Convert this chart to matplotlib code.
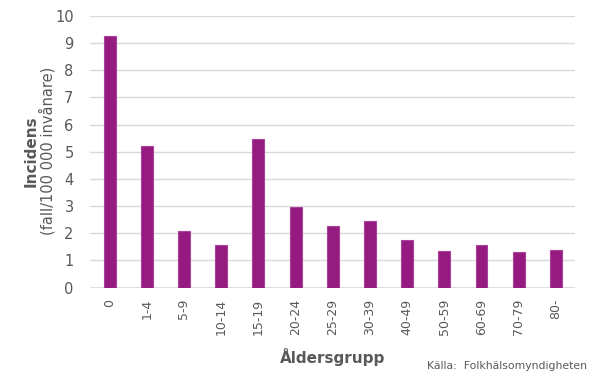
import matplotlib.pyplot as plt

groups = ['0', '1-4', '5-9', '10-14', '15-19', '20-24', '25-29', '30-39',
          '40-49', '50-59', '60-69', '70-79', '80-']
incidens = [9.25, 5.22, 2.07, 1.56, 5.47, 2.95, 2.26, 2.44, 1.75, 1.35, 1.56, 1.32, 1.39]

txt = '#595959'
plt.rcParams['font.family'] = ['DejaVu Sans']

fig = plt.figure(figsize=(5.9, 3.78), dpi=100)
ax = fig.add_axes([0.153, 0.239, 0.822, 0.719])

ax.bar(range(len(groups)), incidens, width=0.32, color='#951b81',
       edgecolor='#a9409a', linewidth=0.8, zorder=3)

ax.set_ylim(0, 10)
ax.set_xlim(-0.52, 12.52)
ax.set_yticks(range(0, 11))
ax.set_xticks(range(len(groups)))
ax.set_xticklabels(groups, rotation=90)
ax.tick_params(axis='both', length=0, colors=txt)
ax.tick_params(axis='y', pad=12, labelsize=10.5)
ax.tick_params(axis='x', pad=8, labelsize=9)
ax.grid(axis='y', color='#d9d9d9', linewidth=1, zorder=0)
for s in ax.spines.values():
    s.set_visible(False)
ax.axhline(0, color='#d9d9d9', linewidth=1.2, zorder=2)

fig.text(0.052, 0.60, 'Incidens', rotation=90, ha='center', va='center',
         color=txt, fontsize=11, fontweight='bold')
fig.text(0.080, 0.60, '(fall/100 000 invånare)', rotation=90, ha='center',
         va='center', color=txt, fontsize=10.5)
fig.text(0.563, 0.055, 'Åldersgrupp', ha='center', va='center', color=txt,
         fontsize=11, fontweight='bold')
fig.text(0.995, 0.032, 'Källa:  Folkhälsomyndigheten', ha='right', va='center',
         color=txt, fontsize=7.8)

fig.savefig('out.png', dpi=100)
